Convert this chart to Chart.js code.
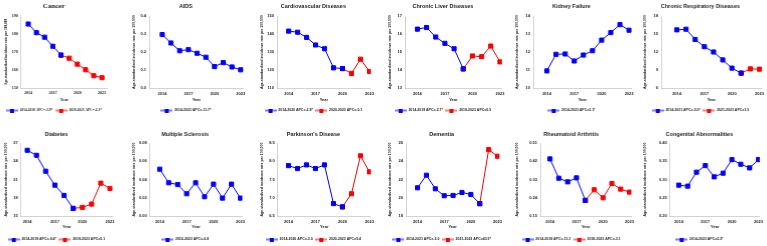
<!DOCTYPE html>
<html>
<head>
<meta charset="utf-8">
<script src="https://cdn.jsdelivr.net/npm/chart.js@4.4.0/dist/chart.umd.min.js"></script>
<style>
  html, body { margin: 0; padding: 0; background: #fff; overflow: hidden; }
  #grid {
    display: grid;
    grid-template-columns: repeat(6, minmax(0, 1fr));
    grid-template-rows: 123px 123px;
    width: 767px;
    height: 246px;
  }
  .cell { position: relative; min-width: 0; width: 100%; height: 123px; overflow: hidden; }
</style>
</head>
<body>
<div id="grid"></div>
<script>
// ----- data -----
const years = [2014, 2015, 2016, 2017, 2018, 2019, 2020, 2021, 2022, 2023];
const yearTicks = [2014, 2017, 2020, 2023];

const cancer = [185.4, 180.6, 178.1, 173.1, 168.2, 166.5, 163.2, 160.1, 156.8, 155.7];
const aids = [0.297, 0.250, 0.207, 0.213, 0.193, 0.171, 0.119, 0.141, 0.117, 0.101];
const cardio = [141.6, 141.0, 138.1, 133.9, 131.8, 121.2, 120.8, 118.1, 126.0, 119.2];
const liver = [16.27, 16.36, 15.83, 15.48, 15.18, 14.06, 14.78, 14.74, 15.33, 14.45];
const kidney = [10.95, 11.87, 11.89, 11.50, 11.83, 12.07, 12.66, 13.08, 13.52, 13.21];
const respiratory = [15.69, 15.80, 14.09, 12.88, 12.00, 10.68, 9.31, 8.48, 9.19, 9.14];
const diabetes = [25.80, 24.98, 22.36, 20.07, 18.38, 16.25, 16.42, 16.96, 20.40, 19.53];
const sclerosis = [0.0513, 0.0364, 0.0345, 0.0244, 0.0364, 0.0211, 0.0349, 0.0196, 0.0349, 0.0196];
const parkinson = [7.88, 7.80, 7.90, 7.80, 7.90, 6.84, 6.75, 7.11, 8.15, 7.71];
const dementia = [21.09, 22.47, 20.98, 20.22, 20.25, 20.58, 20.36, 19.35, 25.27, 24.55];
const rheumatoid = [0.4315, 0.3365, 0.3185, 0.3382, 0.2269, 0.2793, 0.2400, 0.3104, 0.2825, 0.2678];
const congenital = [0.2845, 0.2818, 0.3200, 0.3382, 0.3073, 0.3173, 0.3545, 0.3418, 0.3318, 0.3545];

const titles = ['Cancer', 'AIDS', 'Cardiovascular Diseases', 'Chronic Liver Diseases', 'Kidney Failure',
  'Chronic Respiratory Diseases', 'Diabetes', 'Multiple Sclerosis', "Parkinson's Disease", 'Dementia',
  'Rheumatoid Arthritis', 'Congenital Abnormalities'];
const seriesList = [cancer, aids, cardio, liver, kidney, respiratory, diabetes, sclerosis, parkinson,
  dementia, rheumatoid, congenital];
// index of the joinpoint year (last point of the blue segment)
const splits = [4, 9, 6, 5, 9, 7, 5, 9, 6, 7, 4, 9];
const legends = [
  ['2014-2018 APC=-3.9*', '2018-2023 APC=-2.3*'],
  ['2014-2023 APC=-11.7*'],
  ['2014-2020 APC=-2.9*', '2020-2023 APC=-0.1'],
  ['2014-2019 APC=-2.7*', '2019-2023 APC=0.5'],
  ['2014-2023 APC=3.1*'],
  ['2014-2021 APC=-5.0*', '2021-2023 APC=1.5'],
  ['2014-2019 APC=-9.4*', '2019-2023 APC=5.1'],
  ['2014-2023 APC=-6.8'],
  ['2014-2020 APC=-3.0', '2020-2023 APC=5.4'],
  ['2014-2021 APC=-3.0', '2021-2023 APC=43.5*'],
  ['2014-2018 APC=-11.3', '2018-2023 APC=-3.1'],
  ['2014-2023 APC=2.2*']
];
const yMins = [150, 0, 110, 13, 10, 6, 15, 0, 6.5, 18, 0.15, 0.20];
const yMaxs = [190, 0.4, 150, 17, 14, 18, 27, 0.08, 8.5, 26, 0.51, 0.40];
const yDecimals = [0, 1, 0, 0, 0, 0, 0, 2, 1, 0, 2, 2];
const xMins = [2013.1, 2012.5, 2012.7, 2012.65, 2012.5, 2012.3, 2013.3, 2012.9, 2012.8, 2012.7, 2012.9, 2013.0];
const xMaxs = [2023.7, 2023.35, 2023.15, 2023.2, 2023.3, 2023.25, 2023.3, 2023.2, 2023.15, 2023.2, 2023.2, 2023.15];

// ----- layout per panel (pixels) -----
const spineX = [20.7, 21, 21, 21, 22, 22, 20.7, 21.7, 21.7, 22, 29, 30.7];
const padRight = [21, 13, 13, 10, 8, 6, 16, 14.5, 13, 12.5, 8.5, 8];
// row 1 / row 2
const rowTitlePad = [[2.7, 6.7], [7.7, 5.7]];
const rowBottomPad = [9.75, 3.75];
const rowXAxisH = [18.25, 19.25];
const rowYearPadBottom = [3.85, 5.85];

// ----- legend marker: line with a square -----
function makeMarker(color) {
  const c = document.createElement('canvas');
  c.width = 12;
  c.height = 4;
  const g = c.getContext('2d');
  g.strokeStyle = color;
  g.lineWidth = 1;
  g.beginPath();
  g.moveTo(0, 2);
  g.lineTo(12, 2);
  g.stroke();
  g.fillStyle = color;
  g.fillRect(4, 0, 4, 4);
  return c;
}
const blueMarker = makeMarker('#0000ff');
const redMarker = makeMarker('#ff0000');

const grid = document.getElementById('grid');

for (let i = 0; i < 12; i++) {
  const cell = document.createElement('div');
  cell.className = 'cell';
  const canvas = document.createElement('canvas');
  cell.appendChild(canvas);
  grid.appendChild(cell);

  const vals = seriesList[i];
  const split = splits[i];
  const serif = i === 0;
  const family = serif ? "'Liberation Serif', serif" : "'Liberation Sans', sans-serif";
  const row = i >= 6 ? 1 : 0;
  const titleSize = serif ? 7 : 5.5;
  const titleTop = rowTitlePad[row][0] + (serif ? -0.7 : 0);
  const titleBottom = rowTitlePad[row][1] - (serif ? 1.4 : 0);

  const points = years.map((yr, j) => ({ x: yr, y: vals[j] }));
  const datasets = [{
    label: legends[i][0],
    data: points.filter((p, j) => j <= split),
    borderColor: '#0000ff',
    backgroundColor: '#0000ff',
    borderWidth: 1,
    pointStyle: 'rect',
    pointRadius: 2.9
  }];
  if (legends[i].length > 1) {
    datasets.push({
      label: legends[i][1],
      data: points.filter((p, j) => j >= split),
      borderColor: '#ff0000',
      backgroundColor: '#ff0000',
      borderWidth: 1,
      pointStyle: 'rect',
      pointRadius: 2.9
    });
  }

  new Chart(canvas, {
    type: 'line',
    data: { datasets: datasets },
    options: {
      responsive: true,
      maintainAspectRatio: false,
      animation: false,
      layout: { padding: { left: 0, right: padRight[i], top: 0, bottom: rowBottomPad[row] } },
      plugins: {
        title: {
          display: true,
          text: titles[i],
          color: '#222',
          font: { family: family, size: titleSize, weight: 'bold' },
          padding: { top: titleTop, bottom: titleBottom }
        },
        legend: {
          position: 'bottom',
          maxHeight: 7,
          labels: {
            usePointStyle: true,
            pointStyleWidth: 12,
            color: '#222',
            font: { family: family, size: 3.5, weight: 'bold' },
            padding: 2.5,
            generateLabels: (chart) => chart.data.datasets.map((ds, k) => ({
              text: ds.label,
              pointStyle: k === 0 ? blueMarker : redMarker,
              fillStyle: ds.borderColor,
              strokeStyle: ds.borderColor,
              lineWidth: 0,
              fontColor: '#222',
              datasetIndex: k
            }))
          }
        },
        tooltip: { enabled: false }
      },
      scales: {
        x: {
          type: 'linear',
          min: xMins[i],
          max: xMaxs[i],
          grid: { display: false, drawTicks: false },
          border: { display: true, color: '#c8c8c8', width: 0.8 },
          title: {
            display: true,
            text: 'Year',
            color: '#222',
            font: { family: family, size: 4, weight: 'bold' },
            padding: { top: 2, bottom: rowYearPadBottom[row] }
          },
          ticks: {
            autoSkip: false,
            maxRotation: 0,
            color: '#222',
            padding: 3,
            font: { family: family, size: 4, weight: 'bold' },
            callback: (v) => String(v)
          },
          afterBuildTicks: (scale) => {
            scale.ticks = yearTicks.map((v) => ({ value: v }));
          },
          afterFit: (scale) => {
            scale.height = rowXAxisH[row];
          }
        },
        y: {
          min: yMins[i],
          max: yMaxs[i],
          grid: { display: false, drawTicks: false },
          border: { display: true, color: '#c8c8c8', width: 0.8 },
          title: {
            display: true,
            text: 'Age-standardized incidence rate per 100,000',
            color: '#222',
            font: { family: family, size: 3.5, weight: 'bold' },
            padding: { top: 4, bottom: 2 }
          },
          ticks: {
            count: 5,
            color: '#222',
            padding: 3,
            font: { family: family, size: 4, weight: 'bold' },
            callback: (v) => Number(v).toFixed(yDecimals[i])
          },
          afterFit: (scale) => {
            scale.width = spineX[i];
          }
        }
      }
    }
  });
}
</script>
</body>
</html>
